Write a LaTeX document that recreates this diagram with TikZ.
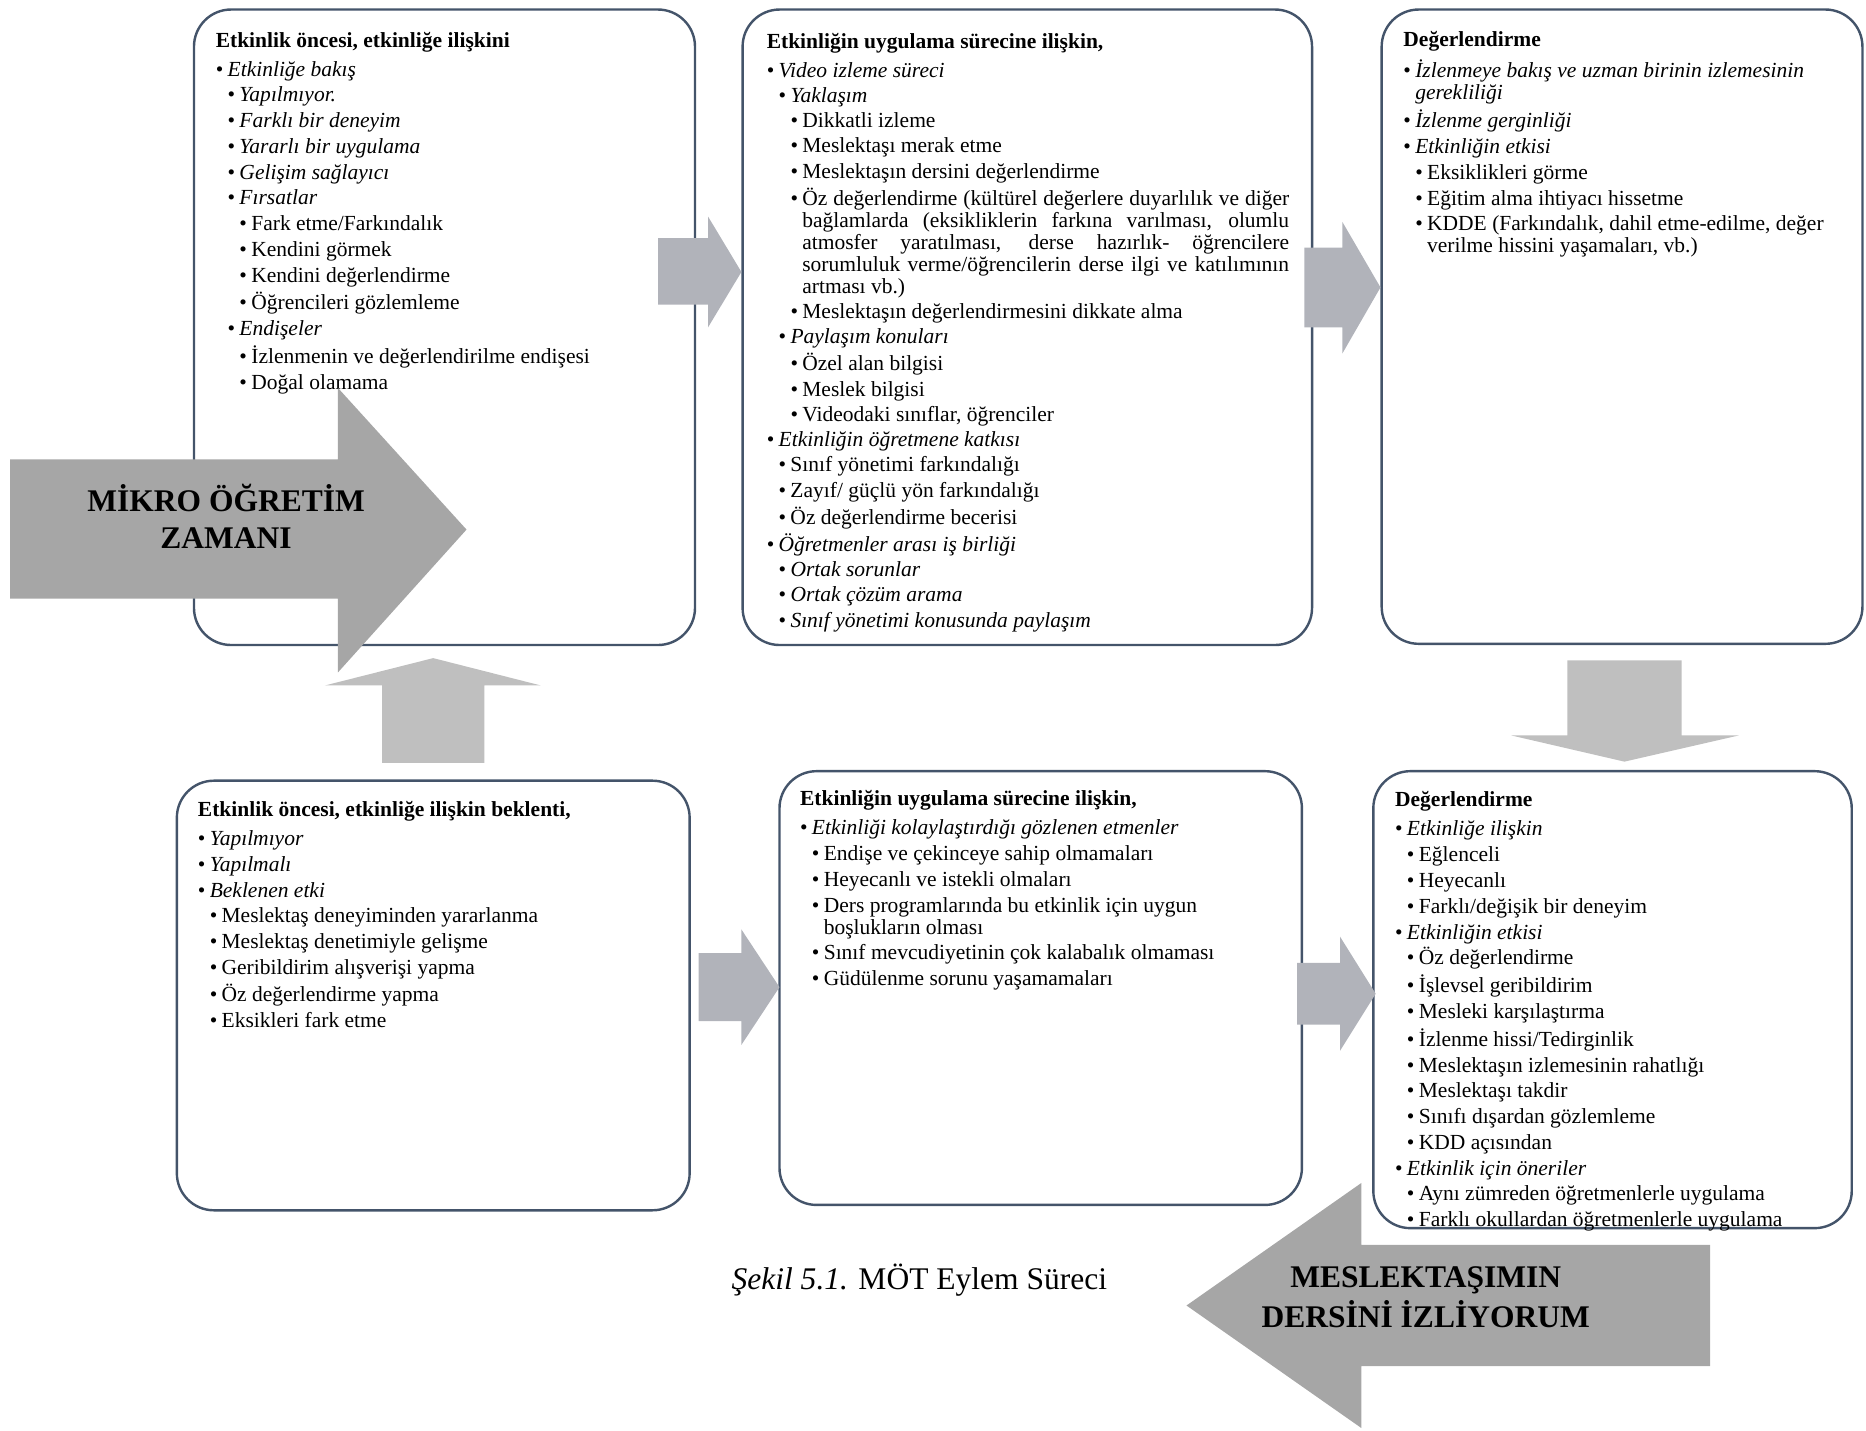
\documentclass[tikz,border=0pt]{standalone}
\usepackage{fontspec}
\setmainfont{Liberation Serif}
\usetikzlibrary{fit}

\definecolor{edgeblue}{RGB}{68,84,106}
\definecolor{stepgrey}{RGB}{177,179,186}
\definecolor{lightgrey}{RGB}{191,191,191}
\definecolor{darkgrey}{RGB}{166,166,166}

\hyphenpenalty=10000
\exhyphenpenalty=10000
\tolerance=10000

\newdimen\bulstep
\bulstep=6.4pt
\newcommand{\itemline}[2]{\par\leftskip=#1\bulstep\hangindent=\bulstep\hangafter=1\noindent\makebox[\bulstep][l]{•}#2\par}
\newcommand{\boxtitle}[1]{\noindent\textbf{#1}\par\vspace{1.8pt}}

\begin{document}
\begin{tikzpicture}[x=0.642pt,y=-0.642pt,
  panel/.style={draw=edgeblue,line width=1.3pt,rounded corners=20pt,fill=white,inner sep=0pt},
  txt/.style={anchor=base west,inner sep=0pt,text width=#1,align=justify,
    font=\fontsize{11.6}{11.9}\selectfont,
    execute at begin node={\setlength{\parskip}{2pt}}},
  txt/.default=250pt,
  smallarrow/.style={fill=stepgrey},
  midarrow/.style={fill=lightgrey},
  bigarrow/.style={fill=darkgrey},
  bigtext/.style={align=center,inner sep=0pt,font=\fontsize{17}{20}\selectfont\bfseries}]

\useasboundingbox (0,0) rectangle (1568,1202);

% Top row boxes
\node[panel,fit={(163,8) (584,542)}] (b1) {};
\node[panel,fit={(624,8) (1102.5,542)}] (b2) {};
\node[panel,fit={(1161,8) (1565,541)}] (b3) {};

% Bottom row boxes
\node[panel,fit={(148.6,656) (579.5,1017)}] (b4) {};
\node[panel,fit={(655,648) (1094,1012.5)}] (b5) {};
\node[panel,fit={(1154,648) (1556,1032)}] (b6) {};

% Before the activity
\node[txt=250pt] (t1) at (181,39.5) {\boxtitle{Etkinlik öncesi, etkinliğe ilişkini}
\itemline{0}{\textit{Etkinliğe bakış}}
\itemline{1}{\textit{Yapılmıyor.}}
\itemline{1}{\textit{Farklı bir deneyim}}
\itemline{1}{\textit{Yararlı bir uygulama}}
\itemline{1}{\textit{Gelişim sağlayıcı}}
\itemline{1}{\textit{Fırsatlar}}
\itemline{2}{Fark etme/Farkındalık}
\itemline{2}{Kendini görmek}
\itemline{2}{Kendini değerlendirme}
\itemline{2}{Öğrencileri gözlemleme}
\itemline{1}{\textit{Endişeler}}
\itemline{2}{İzlenmenin ve değerlendirilme endişesi}
\itemline{2}{Doğal olamama}};

% During the activity
\node[txt=281.8pt,execute at begin node={\setlength{\parskip}{1.7pt}}] (t2) at (644,41) {\boxtitle{Etkinliğin uygulama sürecine ilişkin,}
\itemline{0}{\textit{Video izleme süreci}}
\itemline{1}{\textit{Yaklaşım}}
\itemline{2}{Dikkatli izleme}
\itemline{2}{Meslektaşı merak etme}
\itemline{2}{Meslektaşın dersini değerlendirme}
\itemline{2}{Öz değerlendirme (kültürel değerlere duyarlılık ve diğer\linebreak
bağlamlarda (eksikliklerin farkına varılması, olumlu\linebreak
atmosfer yaratılması, derse hazırlık- öğrencilere\linebreak
sorumluluk verme/öğrencilerin derse ilgi ve katılımının\linebreak
artması vb.)}
\itemline{2}{Meslektaşın değerlendirmesini dikkate alma}
\itemline{1}{\textit{Paylaşım konuları}}
\itemline{2}{Özel alan bilgisi}
\itemline{2}{Meslek bilgisi}
\itemline{2}{Videodaki sınıflar, öğrenciler}
\itemline{0}{\textit{Etkinliğin öğretmene katkısı}}
\itemline{1}{Sınıf yönetimi farkındalığı}
\itemline{1}{Zayıf/ güçlü yön farkındalığı}
\itemline{1}{Öz değerlendirme becerisi}
\itemline{0}{\textit{Öğretmenler arası iş birliği}}
\itemline{1}{\textit{Ortak sorunlar}}
\itemline{1}{\textit{Ortak çözüm arama}}
\itemline{1}{\textit{Sınıf yönetimi konusunda paylaşım}}};

% Evaluation (top)
\node[txt=245pt] (t3) at (1179,39) {\boxtitle{Değerlendirme}
\itemline{0}{\textit{İzlenmeye bakış ve uzman birinin izlemesinin\newline gerekliliği}}
\itemline{0}{\textit{İzlenme gerginliği}}
\itemline{0}{\textit{Etkinliğin etkisi}}
\itemline{1}{Eksiklikleri görme}
\itemline{1}{Eğitim alma ihtiyacı hissetme}
\itemline{1}{KDDE (Farkındalık, dahil etme-edilme, değer\newline verilme hissini yaşamaları, vb.)}};

% Expectation
\node[txt=255pt] (t4) at (166,686) {\boxtitle{Etkinlik öncesi, etkinliğe ilişkin beklenti,}
\itemline{0}{\textit{Yapılmıyor}}
\itemline{0}{\textit{Yapılmalı}}
\itemline{0}{\textit{Beklenen etki}}
\itemline{1}{Meslektaş deneyiminden yararlanma}
\itemline{1}{Meslektaş denetimiyle gelişme}
\itemline{1}{Geribildirim alışverişi yapma}
\itemline{1}{Öz değerlendirme yapma}
\itemline{1}{Eksikleri fark etme}};

% Process (bottom)
\node[txt=260pt] (t5) at (672,677) {\boxtitle{Etkinliğin uygulama sürecine ilişkin,}
\itemline{0}{\textit{Etkinliği kolaylaştırdığı gözlenen etmenler}}
\itemline{1}{Endişe ve çekinceye sahip olmamaları}
\itemline{1}{Heyecanlı ve istekli olmaları}
\itemline{1}{Ders programlarında bu etkinlik için uygun\newline boşlukların olması}
\itemline{1}{Sınıf mevcudiyetinin çok kalabalık olmaması}
\itemline{1}{Güdülenme sorunu yaşamamaları}};

% Evaluation (bottom)
\node[txt=245pt] (t6) at (1172,678) {\boxtitle{Değerlendirme}
\itemline{0}{\textit{Etkinliğe ilişkin}}
\itemline{1}{Eğlenceli}
\itemline{1}{Heyecanlı}
\itemline{1}{Farklı/değişik bir deneyim}
\itemline{0}{\textit{Etkinliğin etkisi}}
\itemline{1}{Öz değerlendirme}
\itemline{1}{İşlevsel geribildirim}
\itemline{1}{Mesleki karşılaştırma}
\itemline{1}{İzlenme hissi/Tedirginlik}
\itemline{1}{Meslektaşın izlemesinin rahatlığı}
\itemline{1}{Meslektaşı takdir}
\itemline{1}{Sınıfı dışardan gözlemleme}
\itemline{1}{KDD açısından}
\itemline{0}{\textit{Etkinlik için öneriler}}
\itemline{1}{Aynı zümreden öğretmenlerle uygulama}
\itemline{1}{Farklı okullardan öğretmenlerle uygulama}};

% Arrows between boxes
\fill[smallarrow] (553,200) -- (595,200) -- (595,182) -- (623,228.5) -- (595,275) -- (595,256) -- (553,256) -- cycle;
\fill[smallarrow] (1096,208) -- (1128,208) -- (1128,186.5) -- (1160,241.5) -- (1128,297) -- (1128,275) -- (1096,275) -- cycle;
\fill[midarrow] (1317,555) -- (1413,555) -- (1413,618) -- (1461,618) -- (1365,640) -- (1270,618) -- (1317,618) -- cycle;
\fill[smallarrow] (1090,809) -- (1126,809) -- (1126,787) -- (1156,835) -- (1126,883) -- (1126,861) -- (1090,861) -- cycle;
\fill[smallarrow] (587,801) -- (623,801) -- (623,781) -- (655,829.5) -- (623,878) -- (623,858) -- (587,858) -- cycle;
\fill[midarrow] (321,641) -- (407,641) -- (407,576) -- (454.5,576) -- (364,553) -- (273,576) -- (321,576) -- cycle;

% Big arrows
\fill[bigarrow] (8.5,386) -- (284,386) -- (284,326) -- (392,445) -- (284,565) -- (284,503) -- (8.5,503) -- cycle;
\node[bigtext] (mikro) at (190,433.5) {MİKRO ÖĞRETİM\\ZAMANI};

\fill[bigarrow] (1437,1046) -- (1144,1046) -- (1144,994) -- (997,1097) -- (1144,1200) -- (1144,1148) -- (1437,1148) -- cycle;
\node[bigtext,font=\fontsize{17}{22}\selectfont\bfseries] (meslek) at (1198,1090) {MESLEKTAŞIMIN\\DERSİNİ İZLİYORUM};

% Caption
\node[inner sep=0pt,font=\fontsize{17}{20}\selectfont] (cap) at (772.5,1076) {\textit{Şekil 5.1.} MÖT Eylem Süreci};

\end{tikzpicture}
\end{document}
